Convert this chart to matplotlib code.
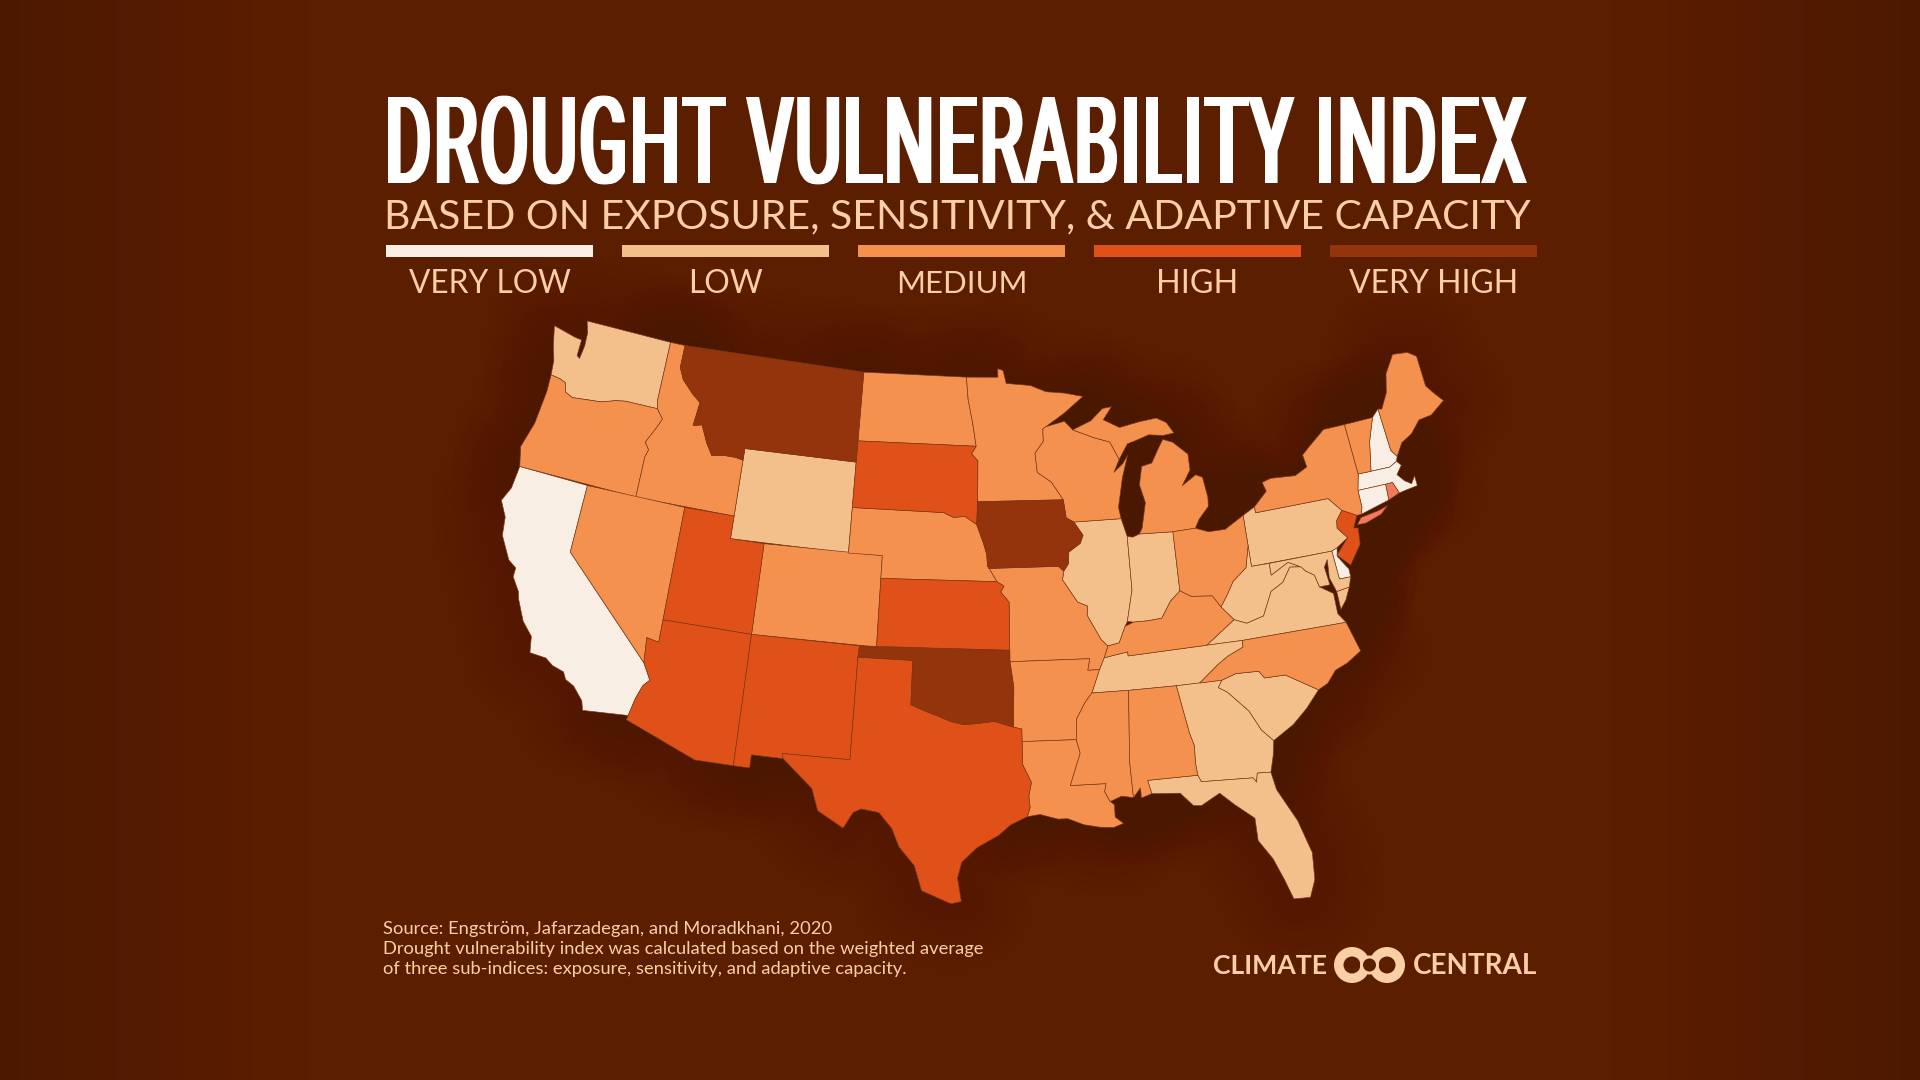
import numpy as np
import matplotlib
matplotlib.use('Agg')
import matplotlib.pyplot as plt
from matplotlib.colors import to_rgb, to_rgba
from matplotlib.patches import Polygon, Rectangle, Circle
from matplotlib.text import Text
from matplotlib.textpath import TextPath
from matplotlib.transforms import Affine2D, Bbox

# Category colours and labels
LEVELS = ['VERY LOW', 'LOW', 'MEDIUM', 'HIGH', 'VERY HIGH']
LEVEL_COLORS = ['#F9EEE3', '#F3C08C', '#F5914E', '#E0511A', '#94340D']
ISLAND_COLOR = '#F4795A'
BG = '#5C1E00'
PEACH = '#FBCFA5'

# Which states sit in which level
VERY_LOW = ['CA', 'NH', 'MA', 'CT', 'DE']
LOW = ['WA', 'WY', 'IL', 'IN', 'PA', 'WV', 'VA', 'VA_SHORE', 'MD', 'TN', 'GA', 'SC', 'FL']
MEDIUM = ['OR', 'ID', 'NV', 'CO', 'ND', 'MN', 'NE', 'WI', 'MI', 'MIU', 'OH', 'KY', 'NY', 'VT', 'ME',
          'NC', 'MO', 'AR', 'LA', 'MS', 'AL']
HIGH = ['UT', 'AZ', 'NM', 'TX', 'SD', 'KS', 'NJ']
VERY_HIGH = ['MT', 'IA', 'OK']
OTHER = ['RI', 'LI']

# State outlines, lon / lat
WA = [(-124.73, 48.38), (-123.2, 48.15), (-122.75, 48.12), (-122.75, 47.4), (-122.55, 47.3), (-122.45, 47.9),
      (-122.5, 48.5), (-122.75, 49.0), (-117.03, 49.0), (-117.03, 46.42), (-116.92, 46.0), (-119.0, 46.0),
      (-119.6, 45.92), (-120.5, 45.7), (-121.2, 45.65), (-122.3, 45.55), (-122.8, 45.7), (-123.0, 46.1),
      (-123.4, 46.2), (-124.0, 46.25), (-124.1, 46.9), (-124.4, 47.5)]
OR = [(-124.0, 46.25), (-123.4, 46.2), (-123.0, 46.1), (-122.8, 45.7), (-122.3, 45.55), (-121.2, 45.65),
      (-120.5, 45.7), (-119.6, 45.92), (-119.0, 46.0), (-116.92, 46.0), (-116.47, 45.6), (-116.7, 45.2),
      (-117.2, 44.45), (-116.9, 44.15), (-117.03, 43.8), (-117.03, 42.0), (-124.2, 42.0), (-124.5, 42.85),
      (-124.1, 44.0), (-123.95, 45.5)]
CA = [(-124.2, 42.0), (-120.0, 42.0), (-120.0, 39.0), (-114.63, 35.0), (-114.13, 34.3), (-114.45, 34.0),
      (-114.7, 33.4), (-114.9, 32.6), (-117.3, 32.4), (-117.45, 32.8), (-118.05, 33.35), (-118.55, 33.55),
      (-118.75, 33.85), (-119.4, 34.0), (-119.85, 34.25), (-120.75, 34.3), (-120.9, 35.0), (-121.55, 35.55),
      (-122.1, 36.4), (-122.25, 36.75), (-122.75, 37.3), (-122.75, 37.7), (-123.25, 37.95), (-124.0, 38.9),
      (-124.15, 39.7), (-124.65, 40.35), (-124.3, 41.0)]
NV = [(-120.0, 42.0), (-114.04, 42.0), (-114.05, 36.0), (-114.74, 36.1), (-114.63, 35.0), (-120.0, 39.0)]
ID = [(-117.03, 49.0), (-116.05, 49.0), (-116.05, 48.0), (-115.7, 47.5), (-114.9, 46.95), (-114.35, 46.65),
      (-114.5, 45.6), (-113.95, 45.7), (-113.45, 44.95), (-113.0, 44.45), (-112.3, 44.55), (-111.5, 44.55),
      (-111.05, 44.48), (-111.05, 42.0), (-117.03, 42.0), (-117.03, 43.8), (-116.9, 44.15), (-117.2, 44.45),
      (-116.7, 45.2), (-116.47, 45.6), (-116.92, 46.0), (-117.03, 46.42)]
MT = [(-116.05, 49.0), (-104.05, 49.0), (-104.05, 45.0), (-111.05, 45.0), (-111.05, 44.48), (-111.5, 44.55),
      (-112.3, 44.55), (-113.0, 44.45), (-113.45, 44.95), (-113.95, 45.7), (-114.5, 45.6), (-114.35, 46.65),
      (-114.9, 46.95), (-115.7, 47.5), (-116.05, 48.0)]
WY = [(-111.05, 45.0), (-104.05, 45.0), (-104.05, 41.0), (-111.05, 41.0)]
UT = [(-114.04, 42.0), (-111.05, 42.0), (-111.05, 41.0), (-109.05, 41.0), (-109.05, 37.0), (-114.05, 37.0)]
CO = [(-109.05, 41.0), (-102.05, 41.0), (-102.05, 37.0), (-109.05, 37.0)]
AZ = [(-114.05, 37.0), (-109.05, 37.0), (-109.05, 31.2), (-111.07, 31.2), (-114.95, 32.4), (-114.9, 32.6),
      (-114.7, 33.4), (-114.45, 34.0), (-114.13, 34.3), (-114.63, 35.0), (-114.74, 36.1), (-114.05, 36.0)]
NM = [(-109.05, 37.0), (-103.0, 37.0), (-103.04, 36.5), (-103.06, 32.0), (-106.62, 32.0), (-106.53, 31.78),
      (-108.2, 31.78), (-108.2, 31.2), (-109.05, 31.2)]
TX = [(-103.04, 36.5), (-100.0, 36.5), (-100.0, 34.56), (-99.2, 34.3), (-98.5, 34.1), (-97.9, 33.9),
      (-97.15, 33.75), (-96.5, 33.8), (-95.5, 33.9), (-94.48, 33.64), (-94.04, 33.55), (-94.04, 32.0),
      (-93.6, 31.2), (-93.75, 30.6), (-93.7, 30.1), (-93.85, 29.7), (-94.7, 29.35), (-95.3, 28.9),
      (-96.4, 28.35), (-97.15, 27.7), (-97.35, 27.0), (-97.15, 25.96), (-97.65, 25.85), (-99.1, 26.4),
      (-99.5, 27.5), (-100.3, 28.3), (-100.7, 29.1), (-101.4, 29.77), (-102.3, 29.88), (-102.7, 29.7),
      (-103.15, 28.98), (-104.5, 29.65), (-104.9, 30.6), (-106.0, 31.4), (-106.53, 31.78), (-106.62, 32.0),
      (-103.06, 32.0)]
OK = [(-103.0, 37.0), (-94.62, 37.0), (-94.62, 36.5), (-94.43, 35.4), (-94.48, 33.64), (-95.5, 33.9),
      (-96.5, 33.8), (-97.15, 33.75), (-97.9, 33.9), (-98.5, 34.1), (-99.2, 34.3), (-100.0, 34.56),
      (-100.0, 36.5), (-103.04, 36.5)]
KS = [(-102.05, 40.0), (-95.3, 40.0), (-94.9, 39.8), (-95.1, 39.55), (-94.62, 39.1), (-94.62, 37.0),
      (-102.05, 37.0)]
NE = [(-104.05, 43.0), (-98.5, 43.0), (-97.9, 42.8), (-97.2, 42.85), (-96.5, 42.5), (-96.1, 41.7),
      (-95.9, 41.2), (-95.85, 40.7), (-95.3, 40.0), (-102.05, 40.0), (-102.05, 41.0), (-104.05, 41.0)]
SD = [(-104.05, 45.94), (-96.56, 45.94), (-96.85, 45.6), (-96.45, 45.3), (-96.45, 43.5), (-96.5, 42.5),
      (-97.2, 42.85), (-97.9, 42.8), (-98.5, 43.0), (-104.05, 43.0)]
ND = [(-104.05, 49.0), (-97.23, 49.0), (-97.1, 48.0), (-96.8, 47.0), (-96.56, 45.94), (-104.05, 45.94)]
MN = [(-97.23, 49.0), (-95.15, 49.0), (-95.15, 49.38), (-94.8, 49.3), (-94.6, 48.72), (-93.0, 48.6),
      (-92.0, 48.3), (-90.8, 48.2), (-89.6, 48.0), (-90.9, 47.3), (-92.1, 46.75), (-92.3, 46.65), (-92.3, 46.1),
      (-92.85, 45.6), (-92.75, 44.75), (-91.9, 44.3), (-91.22, 43.5), (-96.45, 43.5), (-96.45, 45.3),
      (-96.85, 45.6), (-96.56, 45.94), (-96.8, 47.0), (-97.1, 48.0)]
IA = [(-96.45, 43.5), (-91.22, 43.5), (-91.1, 42.7), (-90.65, 42.5), (-90.15, 41.9), (-90.35, 41.55),
      (-91.05, 41.2), (-91.1, 40.7), (-91.4, 40.38), (-91.7, 40.6), (-95.77, 40.58), (-95.85, 40.7),
      (-95.9, 41.2), (-96.1, 41.7), (-96.5, 42.5)]
MO = [(-95.77, 40.58), (-91.7, 40.6), (-91.4, 40.38), (-91.5, 40.0), (-90.7, 39.0), (-90.15, 38.8),
      (-90.2, 38.4), (-89.5, 37.3), (-89.15, 37.0), (-89.4, 36.5), (-89.7, 36.0), (-90.35, 36.0), (-90.2, 36.5),
      (-94.62, 36.5), (-94.62, 39.1), (-95.1, 39.55), (-94.9, 39.8), (-95.3, 40.0), (-95.85, 40.7)]
AR = [(-94.62, 36.5), (-90.2, 36.5), (-90.35, 36.0), (-89.7, 36.0), (-90.2, 35.0), (-90.6, 34.6), (-91.1, 33.9),
      (-91.17, 33.0), (-94.04, 33.0), (-94.04, 33.55), (-94.48, 33.64), (-94.43, 35.4)]
LA = [(-94.04, 33.0), (-91.17, 33.0), (-91.0, 32.4), (-91.6, 31.0), (-89.75, 31.0), (-89.85, 30.65),
      (-89.6, 30.2), (-89.4, 30.05), (-89.4, 29.5), (-89.0, 29.2), (-89.5, 29.05), (-90.2, 29.1), (-91.0, 29.25),
      (-91.8, 29.55), (-92.3, 29.55), (-93.2, 29.78), (-93.85, 29.7), (-93.7, 30.1), (-93.75, 30.6),
      (-93.6, 31.2), (-94.04, 32.0)]
MS = [(-90.2, 35.0), (-88.2, 35.0), (-88.45, 31.9), (-88.4, 30.3), (-89.0, 30.4), (-89.6, 30.2), (-89.85, 30.65),
      (-89.75, 31.0), (-91.6, 31.0), (-91.0, 32.4), (-91.17, 33.0), (-91.1, 33.9), (-90.6, 34.6)]
AL = [(-88.2, 35.0), (-85.6, 35.0), (-85.18, 32.87), (-85.0, 32.3), (-85.05, 31.55), (-85.0, 31.0), (-87.6, 31.0),
      (-87.45, 30.4), (-88.0, 30.25), (-88.0, 30.7), (-88.4, 30.3), (-88.45, 31.9)]
FL = [(-87.6, 31.0), (-85.0, 31.0), (-84.86, 30.7), (-82.2, 30.57), (-82.05, 30.36), (-81.95, 30.75),
      (-81.25, 30.7), (-81.1, 29.9), (-80.3, 28.4), (-79.85, 26.9), (-79.95, 25.7), (-80.3, 24.95),
      (-81.1, 25.0), (-81.4, 25.9), (-81.8, 26.9), (-82.4, 27.8), (-82.4, 28.8), (-83.3, 29.5), (-84.0, 30.1),
      (-85.0, 29.65), (-85.4, 29.7), (-86.0, 30.3), (-87.45, 30.4)]
GA = [(-85.6, 35.0), (-83.1, 35.0), (-83.35, 34.7), (-82.9, 34.45), (-81.9, 33.5), (-81.4, 32.6), (-80.85, 32.05),
      (-81.0, 31.4), (-81.25, 30.7), (-81.95, 30.75), (-82.05, 30.36), (-82.2, 30.57), (-84.86, 30.7),
      (-85.0, 31.0), (-85.05, 31.55), (-85.0, 32.3), (-85.18, 32.87)]
SC = [(-83.1, 35.0), (-82.3, 35.2), (-81.05, 35.15), (-80.8, 34.82), (-79.67, 34.8), (-78.05, 33.9),
      (-78.85, 33.2), (-79.7, 32.6), (-80.85, 32.05), (-81.4, 32.6), (-81.9, 33.5), (-82.9, 34.45), (-83.35, 34.7)]
NC = [(-84.32, 35.0), (-83.1, 35.0), (-82.3, 35.2), (-81.05, 35.15), (-80.8, 34.82), (-79.67, 34.8),
      (-78.05, 33.9), (-77.5, 34.1), (-76.95, 34.6), (-76.25, 34.8), (-75.4, 35.2), (-75.85, 36.55),
      (-81.68, 36.59), (-81.7, 36.3), (-82.6, 36.0), (-83.2, 35.7)]
TN = [(-90.2, 35.0), (-88.2, 35.0), (-85.6, 35.0), (-84.32, 35.0), (-83.2, 35.7), (-82.6, 36.0), (-81.7, 36.3),
      (-81.68, 36.59), (-83.68, 36.6), (-88.07, 36.5), (-88.07, 36.68), (-89.4, 36.5), (-89.7, 36.0)]
KY = [(-89.4, 36.5), (-88.07, 36.68), (-88.07, 36.5), (-83.68, 36.6), (-81.97, 37.54), (-82.6, 38.17),
      (-83.0, 38.7), (-84.2, 38.8), (-84.8, 39.1), (-85.4, 38.7), (-86.0, 38.0), (-86.8, 37.95), (-87.6, 37.95),
      (-88.1, 37.8), (-88.5, 37.1), (-89.15, 37.0)]
VA = [(-83.68, 36.6), (-81.68, 36.59), (-75.85, 36.55), (-76.2, 37.0), (-76.2, 37.9), (-76.9, 38.3),
      (-77.05, 38.85), (-77.5, 39.1), (-77.72, 39.32), (-78.35, 39.4), (-78.9, 38.8), (-79.65, 38.5),
      (-80.3, 37.5), (-81.3, 37.3), (-81.97, 37.54)]
VA_SHORE = [(-75.98, 37.15), (-76.0, 37.95), (-75.25, 38.03), (-75.6, 37.5)]
WV = [(-81.97, 37.54), (-81.3, 37.3), (-80.3, 37.5), (-79.65, 38.5), (-78.9, 38.8), (-78.35, 39.4),
      (-77.72, 39.32), (-78.4, 39.62), (-79.48, 39.2), (-79.48, 39.72), (-80.52, 39.72), (-80.52, 40.64),
      (-80.85, 39.7), (-81.7, 39.2), (-82.2, 38.6), (-82.6, 38.17)]
MD = [(-79.48, 39.72), (-75.79, 39.72), (-75.7, 38.46), (-75.05, 38.45), (-75.25, 38.03), (-76.0, 37.95),
      (-76.25, 38.6), (-76.15, 39.4), (-76.4, 39.1), (-76.3, 38.3), (-76.9, 38.3), (-77.05, 38.85), (-77.5, 39.1),
      (-77.72, 39.32), (-78.4, 39.62), (-79.48, 39.2)]
DE = [(-75.79, 39.72), (-75.45, 39.82), (-75.55, 39.45), (-75.05, 38.8), (-75.05, 38.45), (-75.7, 38.46)]
PA = [(-80.52, 41.98), (-79.76, 42.27), (-79.76, 42.0), (-75.35, 42.0), (-74.7, 41.36), (-75.13, 40.98),
      (-75.2, 40.65), (-74.72, 40.15), (-75.45, 39.82), (-75.79, 39.72), (-80.52, 39.72)]
NJ = [(-74.7, 41.36), (-73.9, 41.0), (-74.25, 40.5), (-74.0, 40.45), (-74.1, 39.75), (-74.9, 38.95),
      (-75.55, 39.5), (-74.72, 40.15), (-75.2, 40.65), (-75.13, 40.98)]
NY = [(-79.76, 42.0), (-75.35, 42.0), (-74.7, 41.36), (-73.9, 41.0), (-73.65, 41.0), (-73.5, 41.3), (-73.5, 42.05),
      (-73.25, 42.75), (-73.35, 45.0), (-74.7, 45.0), (-75.8, 44.4), (-76.3, 44.1), (-76.2, 43.55), (-77.0, 43.28),
      (-78.5, 43.37), (-79.05, 43.26), (-78.9, 42.85), (-79.76, 42.27)]
LI = [(-74.0, 40.6), (-73.7, 40.87), (-72.6, 40.98), (-72.0, 41.1), (-72.5, 40.8), (-73.5, 40.58)]
CT = [(-73.5, 42.05), (-71.8, 42.02), (-71.85, 41.32), (-73.65, 41.0), (-73.5, 41.3)]
RI = [(-71.8, 42.02), (-71.38, 42.02), (-71.15, 41.5), (-71.85, 41.32)]
MA = [(-73.5, 42.05), (-71.8, 42.02), (-71.38, 42.02), (-71.15, 41.5), (-70.65, 41.55), (-70.0, 41.6), (-70.0, 42.05),
      (-70.3, 41.75), (-70.65, 41.95), (-71.0, 42.3), (-70.6, 42.65), (-70.82, 42.87), (-71.3, 42.7), (-72.46, 42.73),
      (-73.25, 42.75)]
VT = [(-73.25, 42.75), (-72.46, 42.73), (-72.1, 44.0), (-71.55, 45.0), (-73.35, 45.0)]
NH = [(-72.46, 42.73), (-71.3, 42.7), (-70.82, 42.87), (-70.7, 43.07), (-70.98, 43.4), (-71.08, 45.3), (-71.55, 45.0),
      (-72.1, 44.0)]
ME = [(-70.7, 43.07), (-70.2, 43.6), (-69.5, 43.85), (-68.8, 44.35), (-68.0, 44.4), (-67.0, 44.85), (-67.45, 45.3),
      (-67.8, 45.7), (-67.8, 47.07), (-68.3, 47.35), (-69.05, 47.43), (-69.25, 47.45), (-70.0, 46.7), (-70.3, 45.9),
      (-70.85, 45.25), (-71.08, 45.3), (-70.98, 43.4)]
OH = [(-84.8, 41.7), (-83.45, 41.73), (-82.7, 41.5), (-81.7, 41.5), (-80.52, 41.98), (-80.52, 40.64), (-80.85, 39.7),
      (-81.7, 39.2), (-82.2, 38.6), (-82.6, 38.17), (-83.0, 38.7), (-84.2, 38.8), (-84.8, 39.1)]
IN = [(-87.53, 41.7), (-87.2, 41.65), (-86.8, 41.76), (-84.8, 41.7), (-84.8, 39.1), (-85.4, 38.7), (-86.0, 38.0),
      (-86.8, 37.95), (-87.6, 37.95), (-87.95, 38.0), (-87.53, 39.35)]
IL = [(-90.65, 42.5), (-87.8, 42.5), (-87.53, 41.7), (-87.53, 39.35), (-87.95, 38.0), (-88.1, 37.8), (-88.5, 37.1),
      (-89.15, 37.0), (-89.5, 37.3), (-90.2, 38.4), (-90.15, 38.8), (-90.7, 39.0), (-91.5, 40.0), (-91.4, 40.38),
      (-91.1, 40.7), (-91.05, 41.2), (-90.35, 41.55), (-90.15, 41.9)]
WI = [(-92.1, 46.75), (-90.9, 46.95), (-90.4, 46.55), (-89.1, 46.15), (-88.1, 45.9), (-87.6, 45.1), (-88.0, 44.55),
      (-87.4, 44.9), (-87.05, 45.25), (-87.5, 44.3), (-87.9, 43.0), (-87.8, 42.5), (-90.65, 42.5), (-91.1, 42.7),
      (-91.22, 43.5), (-91.9, 44.3), (-92.75, 44.75), (-92.85, 45.6), (-92.3, 46.1), (-92.3, 46.65)]
MI = [(-84.8, 41.7), (-83.45, 41.73), (-83.15, 42.1), (-82.5, 42.6), (-82.45, 43.0), (-82.6, 43.9), (-83.0, 44.05),
      (-83.9, 43.65), (-83.3, 44.3), (-83.3, 45.0), (-84.15, 45.6), (-84.75, 45.78), (-85.1, 45.4), (-85.6, 44.8),
      (-86.25, 44.7), (-86.5, 43.9), (-86.25, 43.1), (-86.6, 42.0), (-86.8, 41.76)]
MIU = [(-90.4, 46.55), (-89.2, 46.9), (-88.4, 47.4), (-87.8, 47.45), (-88.4, 46.9), (-87.4, 46.5), (-86.1, 46.67),
       (-85.0, 46.75), (-84.4, 46.5), (-84.0, 46.0), (-84.7, 45.95), (-85.6, 46.05), (-86.5, 45.85), (-87.0, 45.75),
       (-87.6, 45.1), (-88.1, 45.9), (-89.1, 46.15)]

# Footer and header text
TITLE = 'DROUGHT VULNERABILITY INDEX'
SUBTITLE = 'BASED ON EXPOSURE, SENSITIVITY, & ADAPTIVE CAPACITY'
FOOTER = ['Source: Engström, Jafarzadegan, and Moradkhani, 2020',
          'Drought vulnerability index was calculated based on the weighted average',
          'of three sub-indices: exposure, sensitivity, and adaptive capacity.']

# Projection and where it lands in the picture
LON0, LAT0, LAT1, LAT2 = -96.0, 37.5, 29.5, 45.5
MAP_SCALE = 1300.0
MAP_X0, MAP_Y0 = 985.0, 639.0


def albers(points):
    """ Albers equal area conic, returns x, y on the unit sphere """
    lon, lat = np.radians(np.array(points)).T
    p1, p2, p0, l0 = np.radians([LAT1, LAT2, LAT0, LON0])
    n = (np.sin(p1) + np.sin(p2)) / 2
    c = np.cos(p1) ** 2 + 2 * n * np.sin(p1)
    rho = np.sqrt(c - 2 * n * np.sin(lat)) / n
    rho0 = np.sqrt(c - 2 * n * np.sin(p0)) / n
    theta = n * (lon - l0)
    return np.column_stack([rho * np.sin(theta), rho0 - rho * np.cos(theta)])


class CondensedText(Text):
    """ Text drawn squeezed to a set width and cap height, there is no condensed font installed """
    def __init__(self, x, y, s, box_width, cap_height, smear=0, tracking=0, **kwargs):
        super().__init__(x, y, s, **kwargs)
        self.box_width = box_width
        self.cap_height = cap_height
        self.smear = smear
        self.tracking = tracking

    def get_window_extent(self, renderer=None, dpi=None):
        x0, y0 = self.get_transform().transform(self.get_position())
        return Bbox([[x0, y0], [x0 + self.box_width, y0 + self.cap_height]])

    def draw(self, renderer):
        if not self.get_visible():
            return
        prop = self.get_fontproperties()
        s = self.get_text()
        # Glyph offsets from the width of each prefix, so kerning stays in
        bar = TextPath((0, 0), '|', size=100, prop=prop).get_extents().x1
        advances = [TextPath((0, 0), s[:i] + '|', size=100, prop=prop).get_extents().x1 - bar
                    for i in range(len(s))]
        glyphs = [None if c == ' ' else TextPath((0, 0), c, size=100, prop=prop) for c in s]
        cap = TextPath((0, 0), 'H', size=100, prop=prop).get_extents().height
        left = glyphs[0].get_extents().x0
        right = advances[-1] + glyphs[-1].get_extents().x1
        free = self.box_width - self.smear - self.tracking * (len(s) - 1)
        sx = free / (right - left)
        x0, y0 = self.get_transform().transform(self.get_position())
        gc = renderer.new_gc()
        gc.set_linewidth(0)
        for i, glyph in enumerate(glyphs):
            if glyph is None:
                continue
            for dx in np.arange(0, self.smear + 0.5, 1.0):
                gx = x0 + dx + (advances[i] - left) * sx + i * self.tracking
                trans = Affine2D().scale(sx, self.cap_height / cap).translate(gx, y0)
                renderer.draw_path(gc, glyph, trans, rgbFace=to_rgba(self.get_color()))
        gc.restore()


def fit_text(txt, width):
    """ Scale a text's font size so it spans the given width in pixels """
    renderer = fig.canvas.get_renderer()
    bb = txt.get_window_extent(renderer)
    txt.set_fontsize(txt.get_fontsize() * width / bb.width)


fig = plt.figure(figsize=(19.2, 10.8), dpi=100, facecolor=BG)

# Background, darker towards the left and right edges
ax_bg = fig.add_axes([0, 0, 1, 1], zorder=0)
xx, yy = np.meshgrid(np.linspace(-1, 1, 480), np.linspace(-1, 1, 270))
shade = np.clip((np.abs(xx) - 0.68) / 0.32, 0, 1)[..., None]
base = np.array(to_rgb(BG))
dark = np.array(to_rgb('#4C1900'))
ax_bg.imshow(base * (1 - shade) + dark * shade, aspect='auto', extent=[0, 1, 0, 1])
ax_bg.axis('off')

# Map axes: projected coordinates, limits chosen so the map falls where it should
ax = fig.add_axes([0, 0, 1, 1], zorder=1)
ax.patch.set_alpha(0)
ax.set_xlim((0 - MAP_X0) / MAP_SCALE, (1920 - MAP_X0) / MAP_SCALE)
ax.set_ylim((MAP_Y0 - 1080) / MAP_SCALE, MAP_Y0 / MAP_SCALE)
ax.axis('off')

groups = [(VERY_LOW, LEVEL_COLORS[0]), (LOW, LEVEL_COLORS[1]), (MEDIUM, LEVEL_COLORS[2]),
          (HIGH, LEVEL_COLORS[3]), (VERY_HIGH, LEVEL_COLORS[4]), (OTHER, ISLAND_COLOR)]
outlines = {name: globals()[name] for group, _ in groups for name in group}

# Soft shadow around the land
for lw in range(12, 108, 12):
    for pts in outlines.values():
        ax.add_patch(Polygon(albers(pts), closed=True, facecolor='#4A1700', edgecolor='#4A1700',
                             lw=lw, alpha=0.004, joinstyle='round', zorder=1))

for group, color in groups:
    for name in group:
        ax.add_patch(Polygon(albers(outlines[name]), closed=True, facecolor=color, edgecolor='#7A3A18',
                             lw=0.45, joinstyle='round', zorder=2))

# Overlay in picture pixels for the header, legend and footer
ov = fig.add_axes([0, 0, 1, 1], zorder=2)
ov.patch.set_alpha(0)
ov.set_xlim(0, 1920)
ov.set_ylim(1080, 0)
ov.axis('off')
fig.canvas.draw()

title = CondensedText(388, 183, TITLE, 1139, 86, smear=6, tracking=3, family='Roboto', color='white',
                      fontsize=40, transform=ov.transData)
ov.add_artist(title)

t = ov.text(384, 228, SUBTITLE, family='Lato', color=PEACH, fontsize=28, ha='left', va='baseline')
fit_text(t, 1145)

bar_x = [386, 622, 858, 1094, 1330]
label_w = [162, 75, 131, 82, 170]
for x0, label, color, w in zip(bar_x, LEVELS, LEVEL_COLORS, label_w):
    ov.add_patch(Rectangle((x0, 245), 207, 12, facecolor=color, edgecolor='none'))
    t = ov.text(x0 + 103.5, 293, label, family='Lato', color=PEACH, fontsize=21.5, ha='center', va='baseline')
    fit_text(t, w)

for y, line in zip([934, 954, 974], FOOTER):
    ov.text(383, y, line, family='Lato', color=PEACH, fontsize=13.25, ha='left', va='baseline')

# Logo
t = ov.text(1213, 974, 'CLIMATE', family='Lato', weight='bold', color=PEACH, fontsize=18.5, ha='left', va='baseline')
fit_text(t, 115)
t = ov.text(1537, 974, 'CENTRAL', family='Lato', weight='bold', color=PEACH, fontsize=18.5, ha='right', va='baseline')
fit_text(t, 125)
for cx in (1352, 1387):
    ov.add_patch(Circle((cx, 965), 18, facecolor=PEACH, edgecolor='none'))
for cx in (1352, 1387):
    ov.add_patch(Circle((cx, 965), 8.5, facecolor=BG, edgecolor='none'))
ov.add_patch(Circle((1369.5, 965), 9.5, facecolor=PEACH, edgecolor='none'))
ov.add_patch(Circle((1369.5, 965), 6.5, facecolor=BG, edgecolor='none'))

fig.savefig('out.png', dpi=100, facecolor=BG)
